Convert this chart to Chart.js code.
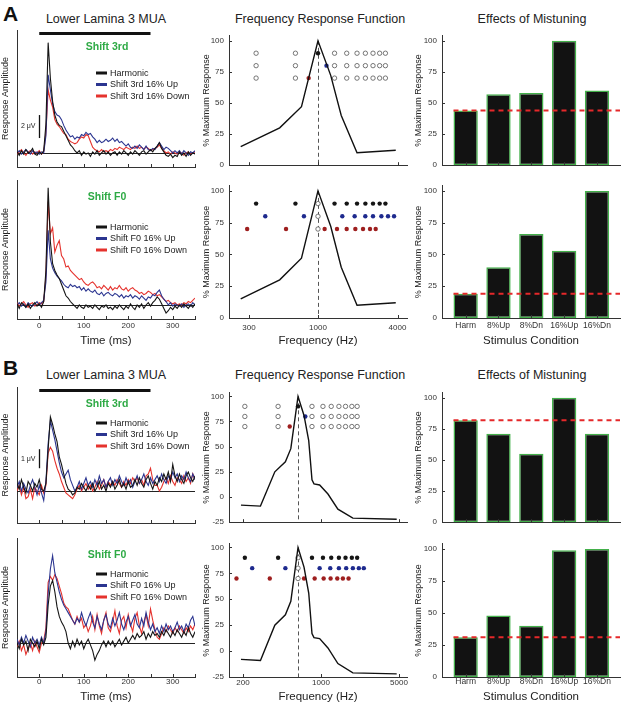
<!DOCTYPE html>
<html lang="en">
<head>
<meta charset="UTF-8">
<title>Lower Lamina 3 MUA - Effects of Mistuning</title>
<script src="https://cdn.jsdelivr.net/npm/chart.js"></script>
<style>
  body { margin: 0; background: #fff; font-family: Arial, "Liberation Sans", Helvetica, sans-serif; }
  #fig { position: relative; width: 623px; height: 705px; overflow: hidden; }
  #fig canvas { position: absolute; }
  .ttl { position: absolute; transform: translate(-50%, -50%); white-space: nowrap; font-size: 12.5px; line-height: 14px; color: #222; }
  .lett { position: absolute; font-weight: bold; font-size: 21px; line-height: 21px; color: #111; }
</style>
</head>
<body>
<div id="fig">
  <div class="lett" style="left:3px; top:3px;">A</div>
  <div class="lett" style="left:3px; top:357px;">B</div>
  <div class="ttl" style="left:106px; top:19px;">Lower Lamina 3 MUA</div>
  <div class="ttl" style="left:320px; top:19px;">Frequency Response Function</div>
  <div class="ttl" style="left:532px; top:19px;">Effects of Mistuning</div>
  <div class="ttl" style="left:106px; top:375px;">Lower Lamina 3 MUA</div>
  <div class="ttl" style="left:320px; top:375px;">Frequency Response Function</div>
  <div class="ttl" style="left:532px; top:375px;">Effects of Mistuning</div>
</div>

<script>
// ---- time course data (ms, uV re: baseline) ----
const times = [-50,-45,-40,-35,-30,-25,-20,-15,-10,-5,0,5,10,15,20,25,30,35,40,45,50,55,60,65,70,75,80,85,90,95,100,
  105,110,115,120,125,130,135,140,145,150,155,160,165,170,175,180,185,190,195,200,205,210,215,220,225,230,235,240,245,250,
  255,260,265,270,275,280,285,290,295,300,305,310,315,320,325,330,335,340,345,350];

// A, shift 3rd
const a3Harm = [0.1,-0.2,0.2,-0.1,0.3,0.0,0.1,0.4,-0.1,-0.2,0.1,-0.1,0.2,
  2.5,9.6,6.5,4.5,3.3,2.7,2.4,2.3,1.9,1.5,
  1.1,0.7,0.5,0.2,0.0,0.2,-0.2,0.1,-0.1,0.0,
  -0.3,0.1,-0.1,0.2,-0.2,0.0,0.2,-0.1,0.1,-0.2,
  0.0,0.1,-0.2,0.1,-0.1,0.2,0.0,-0.2,0.1,-0.1,
  0.2,0.0,-0.2,0.1,0.2,-0.1,0.1,0.3,0.1,0.4,
  0.6,0.9,0.4,0.1,-0.2,-0.3,-0.1,-0.4,-0.2,-0.3,
  0.1,-0.2,0.0,-0.3,0.1,-0.2,0.0,-0.1];
const a3Up = [0.0,0.2,-0.1,0.1,0.3,0.1,-0.1,0.2,0.0,0.1,-0.1,0.1,0.0,
  1.5,6.8,5.5,4.3,3.6,3.3,3.2,2.9,2.4,2.0,
  1.7,1.4,1.5,1.2,1.4,1.3,1.6,1.5,1.8,1.6,
  1.7,1.4,1.2,0.9,1.1,0.9,1.0,1.2,1.0,1.1,
  1.3,1.0,1.2,0.9,1.0,0.8,0.6,0.8,0.5,0.4,
  0.6,0.4,0.7,0.5,0.3,0.6,0.3,0.2,0.4,0.3,
  0.6,0.9,0.6,0.3,0.5,0.4,0.2,0.0,0.2,0.0,
  0.2,-0.1,0.2,0.0,-0.2,0.1,0.0,0.2];
const a3Down = [-0.1,0.1,0.3,0.0,-0.2,0.1,0.2,-0.1,0.1,0.0,0.2,-0.1,0.1,
  1.8,5.5,4.6,4.0,2.9,2.5,2.3,2.0,1.7,1.6,
  1.2,1.0,0.9,0.8,0.9,1.2,1.4,1.3,1.6,1.5,
  1.0,0.5,0.3,0.2,0.1,0.3,0.1,0.2,0.1,0.3,
  0.2,0.4,0.3,0.5,0.4,0.3,0.5,0.4,0.3,0.5,
  0.4,0.6,0.4,0.5,0.3,0.5,0.4,0.2,0.3,0.4,
  0.5,0.7,0.4,0.2,0.0,0.1,-0.1,0.1,0.0,-0.1,
  0.1,0.0,-0.2,0.0,0.1,-0.1,0.0,0.1];

// A, shift F0
const aF0Harm = [0.1,-0.3,0.2,0.0,-0.2,0.1,-0.3,0.0,0.2,-0.1,0.1,-0.2,0.3,
  3.0,10.2,5.5,3.6,3.0,2.6,2.3,1.8,1.3,0.8,
  0.6,0.3,0.1,-0.1,-0.3,0.0,-0.2,-0.3,0.0,-0.2,
  -0.1,-0.3,0.0,-0.2,-0.4,-0.1,-0.2,0.0,-0.3,-0.2,
  -0.4,-0.1,-0.3,0.0,-0.2,-0.4,-0.1,-0.3,0.1,-0.2,
  -0.4,0.0,-0.2,0.1,-0.3,0.0,0.2,-0.1,0.2,0.4,
  0.7,0.5,0.1,-0.3,-0.7,-0.5,-0.2,-0.4,-0.1,-0.3,
  0.0,-0.2,0.1,-0.1,-0.3,0.0,-0.2,0.1];
const aF0Up = [0.0,0.2,-0.1,0.1,-0.2,0.2,0.0,-0.1,0.1,0.3,0.0,0.2,0.4,
  2.0,6.5,4.0,3.2,2.8,2.5,2.3,2.1,1.8,1.6,
  1.5,1.8,1.6,1.7,1.5,1.6,1.3,1.5,1.2,1.4,
  1.2,1.1,1.3,1.0,0.9,1.1,0.8,1.0,1.1,0.9,
  0.8,1.0,0.9,0.7,0.9,0.6,0.8,0.7,0.9,0.6,
  0.8,0.7,0.5,0.8,0.6,0.4,0.7,0.6,0.9,0.8,
  1.1,1.3,0.8,0.5,0.3,0.0,0.2,-0.1,0.1,0.0,
  -0.1,0.1,-0.2,0.0,0.1,-0.1,0.2,0.0];
const aF0Down = [0.2,-0.1,0.1,0.3,0.0,-0.2,0.1,0.2,-0.1,0.0,0.2,0.1,0.3,
  2.5,9.0,6.2,6.7,4.6,5.2,5.6,4.3,4.0,3.3,
  3.4,3.0,2.8,2.6,2.4,2.2,2.3,2.0,1.8,1.7,
  1.9,2.0,1.8,1.5,1.6,1.4,1.7,1.5,1.3,1.6,
  1.3,1.5,1.4,1.7,1.4,1.3,1.5,1.2,1.4,1.5,
  1.3,1.2,1.0,1.1,0.9,1.0,1.2,1.1,0.9,1.0,
  0.8,0.9,0.7,0.5,0.3,0.4,0.2,0.1,0.2,0.0,
  0.1,0.0,0.2,0.1,0.3,0.2,0.4,0.6];

// B, shift 3rd
const b3Harm = [0.4,0.1,0.6,0.2,-0.1,0.5,0.3,0.0,0.4,0.2,0.6,0.1,0.0,
  0.4,2.2,3.9,3.5,3.0,2.6,1.8,1.4,0.9,0.4,
  0.1,0.0,-0.2,-0.1,0.2,0.1,0.4,0.2,0.0,0.3,
  0.1,0.4,0.0,0.2,0.5,0.1,0.3,0.0,0.4,0.2,
  0.5,0.1,0.3,0.6,0.2,0.4,0.1,0.5,0.2,0.3,
  0.6,0.3,0.7,0.4,0.2,0.6,0.8,0.4,0.1,0.5,
  0.3,0.7,0.5,0.9,0.6,1.0,0.5,1.4,0.8,0.5,
  0.9,0.6,0.4,0.8,1.0,0.7,0.5,0.8];
const b3Up = [0.2,0.5,0.0,0.4,0.1,-0.1,0.3,0.6,0.2,-0.2,0.3,-0.1,-0.5,
  0.5,2.5,3.7,3.2,2.7,2.1,1.5,1.0,0.7,0.9,
  1.1,0.6,0.3,0.0,0.2,0.5,0.1,0.4,0.7,0.3,
  0.5,0.2,0.6,0.3,0.8,0.4,0.6,0.2,0.5,0.7,
  0.3,0.6,0.4,0.8,0.5,0.3,0.7,0.4,0.6,0.2,
  0.5,0.8,0.4,0.6,0.9,0.5,0.3,0.7,0.4,0.6,
  0.8,0.5,0.9,0.6,0.4,0.8,0.6,1.0,0.7,0.9,
  0.5,0.8,0.6,1.0,0.7,0.5,0.9,0.6];
const b3Down = [0.0,0.3,-0.2,0.2,-0.4,-0.3,0.1,-0.4,0.2,0.0,-0.2,0.3,-0.1,
  0.3,2.0,2.3,2.1,1.6,1.2,0.9,0.5,0.2,-0.1,
  -0.2,-0.3,-0.4,-0.2,0.1,0.3,0.0,0.2,0.4,0.1,
  0.3,0.0,0.2,0.5,0.1,0.3,0.6,0.2,0.5,0.3,
  0.5,0.3,0.6,0.4,0.2,0.5,0.3,0.6,0.4,0.7,
  0.5,0.7,0.4,0.6,0.3,0.8,0.9,1.2,0.6,0.3,
  0.3,0.0,0.2,0.5,0.7,0.4,0.8,0.5,0.3,0.7,
  0.6,0.4,0.8,0.5,0.7,0.4,0.9,0.6];

// B, shift F0
const bF0Harm = [0.0,-0.3,0.2,-0.1,0.1,-0.4,0.2,0.0,-0.2,0.1,-0.3,0.2,-0.1,
  0.3,2.0,3.0,3.3,2.7,1.9,1.4,1.1,0.9,0.6,
  0.0,-0.3,0.1,-0.2,0.2,-0.1,0.1,-0.3,0.0,0.2,
  -0.1,-0.4,-0.9,-0.6,-0.4,-0.1,0.1,-0.2,0.1,-0.1,
  0.1,-0.2,0.0,0.2,-0.1,0.1,0.3,0.0,0.2,0.4,
  0.2,0.5,0.3,0.4,0.6,0.2,0.5,0.3,0.6,0.4,
  0.5,0.3,0.6,0.4,0.7,0.5,0.3,0.6,0.4,0.7,
  0.5,0.3,0.6,0.4,0.8,0.5,0.3,0.6];
const bF0Up = [0.2,-0.1,0.3,0.0,0.4,0.1,-0.2,0.3,0.0,0.2,-0.1,0.3,0.0,
  0.6,2.6,3.9,4.6,3.7,3.2,2.7,2.3,2.0,1.8,
  1.6,1.4,1.2,1.0,1.3,1.1,1.6,1.2,0.9,1.3,
  1.6,1.1,0.8,1.4,1.0,0.7,1.2,1.5,1.0,0.8,
  1.3,0.9,1.2,1.6,1.0,0.7,1.1,1.4,0.9,1.2,
  1.5,1.0,0.8,1.3,0.9,1.6,1.1,0.7,1.0,0.6,
  0.8,0.5,0.9,0.6,1.0,0.7,0.9,0.6,0.8,1.1,
  0.7,0.9,0.6,1.0,0.8,1.2,1.4,0.9];
const bF0Down = [-0.2,0.1,-0.4,-0.1,-0.6,-0.3,0.0,-0.4,0.1,-0.2,-0.5,0.0,0.1,
  0.8,3.2,3.5,3.3,3.6,3.4,3.0,2.6,2.1,1.9,
  1.8,1.5,1.2,1.0,1.4,1.1,1.3,0.8,1.0,0.6,
  0.9,1.4,0.7,1.5,0.9,0.5,1.2,1.6,0.8,0.6,
  1.1,1.7,0.9,0.5,1.2,1.4,0.8,1.5,1.0,0.6,
  1.3,1.6,0.9,0.5,1.1,1.5,0.9,1.8,1.2,0.7,
  0.3,0.2,0.5,0.8,0.6,0.9,0.7,0.5,0.8,0.6,
  0.9,0.7,0.5,0.8,0.6,0.9,0.7,1.0];

// ---- frequency response functions (Hz, % max) ----
const aCurveFreq = [260, 513, 750, 1000, 1250, 1500, 1975, 3880];
const aCurveResp = [15, 30, 47, 100, 72, 40, 10, 12];
const bCurveFreq = [192, 287, 386, 480, 537, 623, 705, 777, 831, 866, 973, 1155, 1418, 1931, 4770];
const bCurveResp = [-8, -9, 25, 35, 48, 100, 81, 56, 17, 13, 12, 3, -12, -21, -22];

// stimulus components (Hz); rows of dots at these response levels
const rowHarm = 90, rowUp = 80, rowDown = 70;
const aBF = 1000, a3UpFreq = 1160, a3DownFreq = 850;
const aHarmonics = [340, 675, 1335, 1650, 1975, 2285, 2610, 2930, 3240];
const aF0UpFreqs = [399, 783, 1528, 1895, 2282, 2610, 3020, 3390, 3767];
const aF0DownFreqs = [291, 573, 1123, 1393, 1649, 1918, 2193, 2477, 2734];
const bBF = 623, b3UpFreq = 724, b3DownFreq = 525;
const bHarmonics = [208, 413, 831, 1042, 1236, 1448, 1660, 1891, 2110];
const bF0UpFreqs = [242, 480, 973, 1211, 1448, 1683, 1931, 2184, 2420];
const bF0DownFreqs = [175, 348, 705, 878, 1057, 1220, 1400, 1572, 1767];

// ---- effects of mistuning (% max) ----
const conditions = ['Harm', '8%Up', '8%Dn', '16%Up', '16%Dn'];
const conditionPos = [1, 2, 3, 4, 5];
const a3Bars = [44, 57, 58, 100, 60];
const aF0Bars = [19, 40, 66, 53, 100];
const b3Bars = [82, 71, 55, 100, 71];
const bF0Bars = [31, 48, 40, 99, 100];

const pctTicks = [0, 25, 50, 75, 100];
const pctTicksB = [-25, 0, 25, 50, 75, 100];

// ---------------------------------------------------------------
Chart.defaults.font.family = 'Arial, "Liberation Sans", Helvetica, sans-serif';
Chart.defaults.color = '#222';

const C = { harm: '#151515', up: '#2b3590', down: '#e5322d', dotBlue: '#1e2a8e', dotRed: '#9e1f1f', bar: '#121212', barEdge: '#43b04a', axis: '#333' };

const COLS = {
  left:  { l: 17,  r: 195, padL: 17, padR: 10 },
  mid:   { l: 229, r: 407, padL: 29, padR: 8 },
  right: { l: 442, r: 620, padL: 30, padR: 3 }
};

const pairs = (xs, ys) => xs.map((x, i) => ({ x, y: ys[i] }));

function place(col, t, b, ct, cb) {
  const c = COLS[col];
  const cv = document.createElement('canvas');
  cv.width = c.r - c.l + c.padL + c.padR;
  cv.height = cb - ct;
  cv.style.left = (c.l - c.padL) + 'px';
  cv.style.top = ct + 'px';
  document.getElementById('fig').appendChild(cv);
  return { cv, padL: c.padL, padR: c.padR, padT: t - ct, padB: cb - b };
}

// tick marks pointing into the axes, like the original
const innerTicks = {
  id: 'innerTicks',
  afterDraw(chart, args, opts) {
    const { ctx, chartArea: a } = chart;
    const xs = chart.scales.x, ys = chart.scales.y;
    ctx.save();
    ctx.strokeStyle = C.axis;
    ctx.lineWidth = 1;
    ctx.beginPath();
    xs.ticks.forEach(tk => {
      const px = Math.round(xs.getPixelForValue(tk.value)) + 0.5;
      ctx.moveTo(px, a.bottom); ctx.lineTo(px, a.bottom - 3);
    });
    if (opts.y) ys.ticks.forEach(tk => {
      const py = Math.round(ys.getPixelForValue(tk.value)) + 0.5;
      ctx.moveTo(a.left, py); ctx.lineTo(a.left + 3, py);
    });
    ctx.stroke();
    ctx.restore();
  }
};

function baseOptions(g, yTitle, xTitle, xTitlePad) {
  return {
    responsive: false, animation: false, devicePixelRatio: 1,
    layout: { padding: { top: g.padT, right: g.padR, left: 0, bottom: 0 } },
    plugins: { legend: { display: false }, tooltip: { enabled: false } },
    scales: {
      x: {
        border: { display: true, color: C.axis, width: 1 },
        grid: { display: false, drawTicks: false },
        title: { display: !!xTitle, text: xTitle || '', font: { size: 11.5 }, padding: { top: 0, bottom: xTitlePad || 0 } },
        afterFit: s => { s.height = g.padB; }
      },
      y: {
        border: { display: true, color: C.axis, width: 1 },
        grid: { display: false, drawTicks: false },
        title: { display: true, text: yTitle, font: { size: 9 }, padding: { top: 1.6, bottom: 0 } },
        afterFit: s => { s.width = g.padL; }
      }
    }
  };
}

// ---- left column: response time courses ----
const traceDecor = {
  id: 'traceDecor',
  beforeDatasetsDraw(chart) {
    const { ctx, chartArea: a } = chart;
    const py = Math.round(chart.scales.y.getPixelForValue(0)) + 0.5;
    ctx.save();
    ctx.strokeStyle = '#222'; ctx.lineWidth = 1;
    ctx.beginPath(); ctx.moveTo(a.left, py); ctx.lineTo(a.right, py); ctx.stroke();
    ctx.restore();
  },
  afterDatasetsDraw(chart, args, o) {
    const { ctx, chartArea: a } = chart;
    const xs = chart.scales.x, ys = chart.scales.y;
    ctx.save();
    if (o.stim) {
      ctx.fillStyle = '#111';
      ctx.fillRect(xs.getPixelForValue(0), a.top + 2, xs.getPixelForValue(250) - xs.getPixelForValue(0), 3);
    }
    ctx.font = 'bold 10.5px Arial, "Liberation Sans", sans-serif';
    ctx.fillStyle = '#2eaa45';
    ctx.textAlign = 'center'; ctx.textBaseline = 'middle';
    ctx.fillText(o.shift, a.left + 90, a.top + 17.5);
    ctx.font = '9px Arial, "Liberation Sans", sans-serif';
    ctx.textAlign = 'left';
    chart.data.datasets.forEach((ds, i) => {
      const y = a.top + o.legendTop + i * 11.5;
      ctx.fillStyle = ds.borderColor;
      ctx.fillRect(a.left + 79, y - 1.5, 11, 3);
      ctx.fillStyle = '#222';
      ctx.fillText(ds.label, a.left + 93, y + 0.5);
    });
    if (o.bar) {
      const x = Math.round(xs.getPixelForValue(0)) + 0.5;
      const y1 = ys.getPixelForValue(o.bar.from), y2 = ys.getPixelForValue(o.bar.to);
      ctx.strokeStyle = '#111'; ctx.lineWidth = 1.3;
      ctx.beginPath(); ctx.moveTo(x, y1); ctx.lineTo(x, y2); ctx.stroke();
      ctx.font = '7px Arial, "Liberation Sans", sans-serif';
      ctx.textAlign = 'right';
      ctx.fillText(o.bar.label, x - 4, (y1 + y2) / 2);
    }
    ctx.restore();
  }
};

function traceChart(cfg) {
  const g = place('left', cfg.t, cfg.b, cfg.ct, cfg.cb);
  const opts = baseOptions(g, 'Response Amplitude', cfg.showX ? 'Time (ms)' : null, cfg.xTitlePad);
  opts.scales.x.type = 'linear';
  opts.scales.x.min = -50; opts.scales.x.max = 350;
  opts.scales.x.ticks = {
    display: cfg.showX, stepSize: 50, autoSkip: false, maxRotation: 0, padding: cfg.tickPad || 0,
    font: { size: 8 }, color: '#333',
    callback: v => (v >= 0 && v % 100 === 0 ? v : '')
  };
  opts.scales.y.min = cfg.yMin; opts.scales.y.max = cfg.yMax;
  opts.scales.y.ticks = { display: false };
  opts.scales.y.title.padding = { top: 0.6, bottom: 0 };
  opts.plugins.innerTicks = { y: false };
  opts.plugins.traceDecor = { stim: cfg.stim, shift: cfg.shift, legendTop: cfg.legendTop, bar: cfg.bar };
  const line = (label, ys, color) => ({ label, data: pairs(times, ys), borderColor: color, borderWidth: 1.1, pointRadius: 0, tension: 0 });
  new Chart(g.cv, {
    type: 'line',
    data: { datasets: [
      line('Harmonic', cfg.harm, C.harm),
      line(cfg.names[0], cfg.up, C.up),
      line(cfg.names[1], cfg.down, C.down)
    ] },
    options: opts,
    plugins: [innerTicks, traceDecor]
  });
}

// ---- middle column: frequency response functions ----
const bfLine = {
  id: 'bfLine',
  beforeDatasetsDraw(chart, args, o) {
    const { ctx, chartArea: a } = chart;
    const x = Math.round(chart.scales.x.getPixelForValue(o.bf)) + 0.5;
    ctx.save();
    ctx.strokeStyle = '#555'; ctx.lineWidth = 1; ctx.setLineDash([4, 3]);
    ctx.beginPath(); ctx.moveTo(x, chart.scales.y.getPixelForValue(100)); ctx.lineTo(x, a.bottom); ctx.stroke();
    ctx.restore();
  }
};

function freqChart(cfg) {
  const g = place('mid', cfg.t, cfg.b, cfg.ct, cfg.cb);
  const opts = baseOptions(g, '% Maximum Response', cfg.showX ? 'Frequency (Hz)' : null, cfg.xTitlePad);
  opts.scales.x.type = 'logarithmic';
  opts.scales.x.min = cfg.xMin; opts.scales.x.max = cfg.xMax;
  opts.scales.x.afterBuildTicks = s => { s.ticks = cfg.xTicks.map(v => ({ value: v })); };
  opts.scales.x.ticks = { display: cfg.showX, autoSkip: false, maxRotation: 0, padding: cfg.tickPad || 0, font: { size: 8 }, color: '#333', callback: v => String(v) };
  opts.scales.y.min = cfg.yMin; opts.scales.y.max = cfg.yMax;
  opts.scales.y.afterBuildTicks = s => { s.ticks = cfg.yTicks.map(v => ({ value: v })); };
  opts.scales.y.ticks = { padding: 5, font: { size: 8 }, color: '#333' };
  opts.plugins.innerTicks = { y: true };
  opts.plugins.bfLine = { bf: cfg.bf };
  const datasets = [{ data: pairs(cfg.curveF, cfg.curveR), borderColor: '#111', borderWidth: 1.4, pointRadius: 0, tension: 0 }];
  cfg.dots.forEach(d => datasets.push({
    data: d.freqs.map(f => ({ x: f, y: d.row })),
    showLine: false, pointRadius: 2.2,
    pointBorderWidth: d.color ? 0 : 0.8,
    pointBackgroundColor: d.color || '#fff',
    pointBorderColor: d.color || '#555'
  }));
  new Chart(g.cv, { type: 'line', data: { datasets }, options: opts, plugins: [innerTicks, bfLine] });
}

// ---- right column: effects of mistuning ----
const harmLine = {
  id: 'harmLine',
  afterDatasetsDraw(chart) {
    const { ctx, chartArea: a } = chart;
    const first = chart.getDatasetMeta(0).data[0];
    const y = chart.scales.y.getPixelForValue(chart.data.datasets[0].data[0].y);
    ctx.save();
    ctx.strokeStyle = '#e5282a'; ctx.lineWidth = 2; ctx.setLineDash([5, 4]);
    ctx.beginPath(); ctx.moveTo(first.x - first.width / 2, y); ctx.lineTo(a.right, y); ctx.stroke();
    ctx.restore();
  }
};

function barChart(cfg) {
  const g = place('right', cfg.t, cfg.b, cfg.ct, cfg.cb);
  const opts = baseOptions(g, '% Maximum Response', cfg.showX ? 'Stimulus Condition' : null, cfg.xTitlePad);
  opts.scales.x.type = 'linear';
  opts.scales.x.offset = false;
  opts.scales.x.grid = { display: false, drawTicks: false, offset: false };
  opts.scales.x.min = 0.28; opts.scales.x.max = 5.7;
  opts.scales.x.afterBuildTicks = s => { s.ticks = conditionPos.map(v => ({ value: v })); };
  opts.scales.x.ticks = { display: cfg.showX, autoSkip: false, maxRotation: 0, padding: cfg.tickPad || 0, font: { size: 8.5 }, color: '#333', callback: v => conditions[v - 1] };
  opts.scales.y.min = 0; opts.scales.y.max = 104;
  opts.scales.y.afterBuildTicks = s => { s.ticks = pctTicks.map(v => ({ value: v })); };
  opts.scales.y.ticks = { padding: 5, font: { size: 8 }, color: '#333' };
  opts.plugins.innerTicks = { y: true };
  new Chart(g.cv, {
    type: 'bar',
    data: { datasets: [{
      data: pairs(conditionPos, cfg.vals),
      backgroundColor: C.bar, borderColor: C.barEdge, borderWidth: 1.5, borderSkipped: false,
      categoryPercentage: 1, barPercentage: 0.74
    }] },
    options: opts,
    plugins: [innerTicks, harmLine]
  });
}

// ---- build the twelve panels ----
const rowA1 = { t: 30, b: 167, ct: 26, cb: 175 };
const rowA2 = { t: 181, b: 318, ct: 176, cb: 355 };
const rowB1 = { t: 387, b: 523, ct: 383, cb: 532 };
const rowB2 = { t: 538, b: 677, ct: 534, cb: 705 };

traceChart({ ...rowA1, harm: a3Harm, up: a3Up, down: a3Down, names: ['Shift 3rd 16% Up', 'Shift 3rd 16% Down'],
  shift: 'Shift 3rd', legendTop: 43, stim: true, bar: { from: 1.3, to: 3.3, label: '2 \u03bcV' }, yMin: -1.22, yMax: 10.7, showX: false });
traceChart({ ...rowA2, t: 180, b: 319, harm: aF0Harm, up: aF0Up, down: aF0Down, names: ['Shift F0 16% Up', 'Shift F0 16% Down'],
  shift: 'Shift F0', legendTop: 47, stim: false, bar: null, yMin: -1.22, yMax: 10.87, showX: true, tickPad: 1.5, xTitlePad: 6.8 });
traceChart({ ...rowB1, harm: b3Harm, up: b3Up, down: b3Down, names: ['Shift 3rd 16% Up', 'Shift 3rd 16% Down'],
  shift: 'Shift 3rd', legendTop: 36, stim: true, bar: { from: 1.2, to: 2.2, label: '1 \u03bcV' }, yMin: -1.68, yMax: 5.47, showX: false });
traceChart({ ...rowB2, harm: bF0Harm, up: bF0Up, down: bF0Down, names: ['Shift F0 16% Up', 'Shift F0 16% Down'],
  shift: 'Shift F0', legendTop: 36, stim: false, bar: null, yMin: -1.79, yMax: 5.53, showX: true, tickPad: 0, xTitlePad: 1.1 });

const aFreqBase = { curveF: aCurveFreq, curveR: aCurveResp, bf: aBF, xMin: 212, xMax: 4720, xTicks: [300, 1000, 4000], yMin: 0, yMax: 104, yTicks: pctTicks };
const bFreqBase = { curveF: bCurveFreq, curveR: bCurveResp, bf: bBF, xMin: 150, xMax: 5900, xTicks: [200, 1000, 5000], yMin: -25, yMax: 103.5, yTicks: pctTicksB };

freqChart({ ...aFreqBase, ...rowA1, showX: false, dots: [
  { freqs: aHarmonics, row: rowHarm }, { freqs: aHarmonics, row: rowUp }, { freqs: aHarmonics, row: rowDown },
  { freqs: [aBF], row: rowHarm, color: C.harm }, { freqs: [a3UpFreq], row: rowUp, color: C.dotBlue }, { freqs: [a3DownFreq], row: rowDown, color: C.dotRed }
] });
freqChart({ ...aFreqBase, ...rowA2, showX: true, tickPad: 5, xTitlePad: 6.8, dots: [
  { freqs: aHarmonics, row: rowHarm, color: C.harm }, { freqs: aF0UpFreqs, row: rowUp, color: C.dotBlue }, { freqs: aF0DownFreqs, row: rowDown, color: C.dotRed },
  { freqs: [aBF], row: rowHarm }, { freqs: [aBF], row: rowUp }, { freqs: [aBF], row: rowDown }
] });
freqChart({ ...bFreqBase, ...rowB1, showX: false, dots: [
  { freqs: bHarmonics, row: rowHarm }, { freqs: bHarmonics, row: rowUp }, { freqs: bHarmonics, row: rowDown },
  { freqs: [bBF], row: rowHarm, color: C.harm }, { freqs: [b3UpFreq], row: rowUp, color: C.dotBlue }, { freqs: [b3DownFreq], row: rowDown, color: C.dotRed }
] });
freqChart({ ...bFreqBase, ...rowB2, showX: true, tickPad: 0.7, xTitlePad: 1.1, dots: [
  { freqs: bHarmonics, row: rowHarm, color: C.harm }, { freqs: bF0UpFreqs, row: rowUp, color: C.dotBlue }, { freqs: bF0DownFreqs, row: rowDown, color: C.dotRed },
  { freqs: [bBF], row: rowHarm }, { freqs: [bBF], row: rowUp }, { freqs: [bBF], row: rowDown }
] });

barChart({ ...rowA1, vals: a3Bars, showX: false });
barChart({ ...rowA2, vals: aF0Bars, showX: true, tickPad: 3, xTitlePad: 6.8 });
barChart({ ...rowB1, vals: b3Bars, showX: false });
barChart({ ...rowB2, vals: bF0Bars, showX: true, tickPad: 0, xTitlePad: 1.1 });
</script>
</body>
</html>
